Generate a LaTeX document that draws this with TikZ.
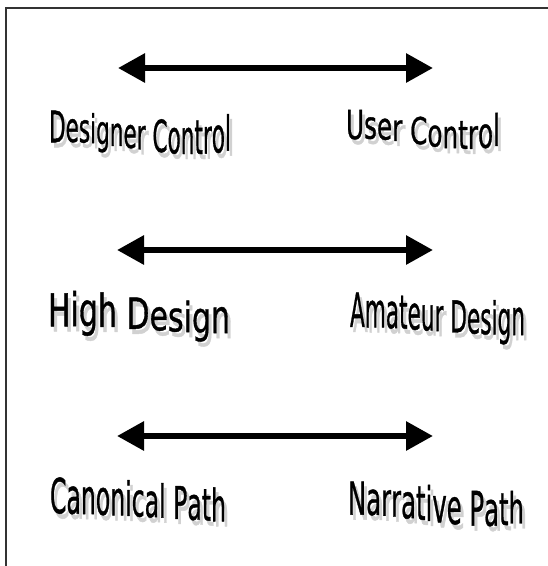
\documentclass[tikz,border=0pt]{standalone}
\usepackage{fontspec}
\usepackage{graphicx}
\usetikzlibrary{arrows.meta}

% Verdana-like face for the word-art labels, slightly emboldened
\newfontfamily\wafamily[FakeBold=1]{DejaVu Sans}
\newcommand\wf{\wafamily\fontsize{20pt}{24pt}\selectfont}
\newcommand\wsp{\ }

\newdimen\waW
\newdimen\waX
\newsavebox\wabox
% width of one letter in the word-art face, measured outside the picture context
\newcommand\wameasure[1]{%
  \pgfinterruptpicture\global\setbox\wabox\hbox{\wf #1}\endpgfinterruptpicture
  \xdef\wacw{\the\wd\wabox}%
  \xdef\wach{\the\ht\wabox}}
\def\waenv#1/#2/#3/#4\waend{\def\waA{#1}\def\waB{#2}\def\waC{#3}\def\waD{#4}}
% cubic through the values at t = 0, 1/3, 2/3, 1
\newcommand\wacubic[1]{%
  \pgfmathsetmacro#1{-4.5*(\wat-1/3)*(\wat-2/3)*(\wat-1)*\waA
    +13.5*\wat*(\wat-2/3)*(\wat-1)*\waB
    -13.5*\wat*(\wat-1/3)*(\wat-1)*\waC
    +4.5*\wat*(\wat-1/3)*(\wat-2/3)*\waD}}
% one stretched letter with its drop shadow
\newcommand\waglyph[1]{\scalebox{\wasx}[\wasy]{\wf #1}}
\newcommand\washadowed[1]{%
  \rlap{\hspace*{3pt}\raisebox{-5pt}{\color{black!18}\waglyph{#1}}}%
  \waglyph{#1}}

% word art: #1 left x, #2 right x, #3 baseline (4 values), #4 cap line (4 values), #5 letters
\newcommand\wordart[5]{%
  \global\waW=0pt
  \foreach \ch in {#5}{\wameasure{\ch}\global\advance\waW by \wacw\relax}%
  \wameasure{H}\let\waH\wach
  \pgfmathsetmacro\wasx{(#2-#1)/max(\the\waW,1pt)}%
  \global\waX=0pt
  \foreach \ch in {#5}{%
    \wameasure{\ch}\let\wacwl\wacw
    \pgfmathsetmacro\wat{(\the\waX+0.5*\wacwl)/max(\the\waW,1pt)}%
    \waenv#3\waend\wacubic\wayb
    \waenv#4\waend\wacubic\wayt
    \pgfmathsetmacro\wasy{(\wayb-\wayt)/max(\waH,1pt)}%
    \pgfmathsetmacro\wax{#1+\the\waX*\wasx}%
    \node[wachar] at (\wax,\wayb) {\washadowed{\ch}};%
    \global\advance\waX by \wacwl\relax
  }%
}

\tikzset{
  wachar/.style={anchor=base west,inner sep=0pt,outer sep=0pt,text=black},
  frameline/.style={line width=2pt,draw=black!80},
  biarrow/.style={line width=6pt,
    {Triangle[length=27pt,width=28pt]}-{Triangle[length=27pt,width=28pt]}},
}

\begin{document}
\begin{tikzpicture}[x=1pt,y=-1pt]
\useasboundingbox (0,0) rectangle (548,566);
\fill[white] (0,0) rectangle (548,566);

% frame edges
\coordinate (fbl) at (5.5,566);
\coordinate (ftl) at (5.5,8);
\coordinate (ftr) at (548,8);
\draw[frameline] (fbl) -- (ftl) -- (ftr);

% double-headed arrows
\coordinate (a1l) at (118,68);  \coordinate (a1r) at (433,68);
\coordinate (a2l) at (117,250); \coordinate (a2r) at (433,250);
\coordinate (a3l) at (117,436); \coordinate (a3r) at (433,436);
\draw[biarrow] (a1l) -- (a1r);
\draw[biarrow] (a2l) -- (a2r);
\draw[biarrow] (a3l) -- (a3r);

% labels
\wordart{49}{231}{143/145/153/150}{110/116/120/115}{D,e,s,i,g,n,e,r,\wsp,C,o,n,t,r,o,l}
\wordart{346}{500}{140/141/148/145}{110/114/120/113}{U,s,e,r,\wsp,C,o,n,t,r,o,l}
\wordart{48}{230}{327/327/331/333}{295/294/301/297}{H,i,g,h,\wsp,D,e,s,i,g,n}
\wordart{350}{525}{327/329/333/335}{293/295/301/298}{A,m,a,t,e,u,r,\wsp,D,e,s,i,g,n}
\wordart{50}{226}{513/515/518/522}{478/480/485/489}{C,a,n,o,n,i,c,a,l,\wsp,P,a,t,h}
\wordart{348}{524}{515/518/525/522}{482/484/490/492}{N,a,r,r,a,t,i,v,e,\wsp,P,a,t,h}
\end{tikzpicture}
\end{document}
